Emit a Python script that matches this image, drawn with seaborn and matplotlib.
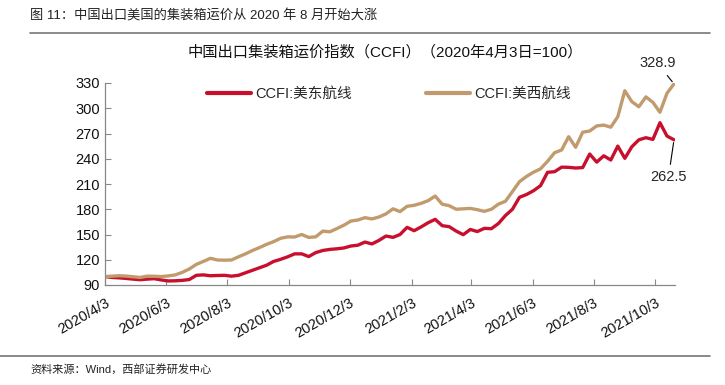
import pandas as pd
import matplotlib
matplotlib.use('Agg')
import matplotlib.pyplot as plt
import seaborn as sns

# 周度数据：2020/4/3 起，至 2021/10/22
start_date = '2020-04-03'
n_weeks = 82

east_vals = [100, 99, 98.5, 97.8, 97, 96.3, 97, 97.5, 96, 94.8,
             95, 95.5, 96.5, 101.5, 102, 101, 101.3, 101.5, 100.5, 101.5,
             104.5, 107.5, 110.5, 113.5, 118, 120.5, 123.5, 127, 127, 123.8,
             128.5, 131, 132.3, 133, 134, 136.3, 137.3, 141, 138.8, 143,
             148.2, 146.6, 150, 158.5, 154.5, 159, 164, 168, 160.5, 159.3,
             154, 149.8, 156, 153.5, 157.3, 156.9, 163, 172.5, 180, 194.2,
             197.5, 202, 208, 223.9, 224.6, 230, 229.8, 229, 229.5, 245.6,
             236, 243.5, 238.5, 255, 240.5, 254.3, 262.5, 265, 263, 282.8,
             267, 262.5]

west_vals = [100, 100.5, 101, 100.6, 99.8, 99, 100.5, 100.4, 100, 100.8,
             102, 105, 109, 114.5, 118, 121.7, 119.7, 119.5, 119.7, 123.5,
             127, 131, 134.5, 138.3, 141.5, 145.5, 147.2, 147, 150, 146.5,
             147.2, 154, 153.2, 157, 161, 166, 167.2, 170, 168.5, 170.8,
             174.5, 180.5, 177.2, 183.5, 184.7, 187, 190.2, 195.7, 186, 184.2,
             180, 180.5, 181, 179.5, 177.5, 180, 186, 189.5, 201, 212.7,
             219, 224, 228, 237, 247.2, 250.4, 266.2, 253.6, 271.5, 273,
             279, 280, 277.5, 290, 320.8, 307.8, 301.8, 313.5, 307, 295.2,
             317.8, 328.9]

series_names = ['CCFI:美东航线', 'CCFI:美西航线']
tick_dates = ['2020-04-03', '2020-06-03', '2020-08-03', '2020-10-03', '2020-12-03',
              '2021-02-03', '2021-04-03', '2021-06-03', '2021-08-03', '2021-10-03']
y_ticks = [90, 120, 150, 180, 210, 240, 270, 300, 330]

dates = pd.date_range(start_date, periods=n_weeks, freq='7D')
df = pd.DataFrame({'date': list(dates) * 2,
                   'value': east_vals + west_vals,
                   'series': [series_names[0]] * n_weeks + [series_names[1]] * n_weeks})

sns.set_style('white')
plt.rcParams['font.family'] = ['Liberation Sans', 'Noto Sans CJK SC', 'DejaVu Sans']

fig = plt.figure(figsize=(7.25, 3.85), dpi=100)
ax = fig.add_axes([105 / 725, 1 - 285 / 385, 570 / 725, 202 / 385])

palette = {series_names[0]: '#C8102E', series_names[1]: '#C19B6E'}
sns.lineplot(data=df, x='date', y='value', hue='series', palette=palette,
             linewidth=2.4, ax=ax)

ax.set_xlim(pd.Timestamp('2020-04-03'), pd.Timestamp('2021-10-23'))
ax.set_ylim(90, 330)
ax.set_yticks(y_ticks)
ax.set_xticks(pd.to_datetime(tick_dates))
ax.set_xticklabels([f'{d.year}/{d.month}/{d.day}' for d in pd.to_datetime(tick_dates)],
                   rotation=30, ha='right', rotation_mode='anchor')
ax.set_xlabel('')
ax.set_ylabel('')
ax.tick_params(direction='in', length=4, color='#888888', labelsize=10.5,
               labelcolor='#111111', bottom=True, left=True)
ax.tick_params(axis='x', pad=8)
for s in ['top', 'right']:
    ax.spines[s].set_visible(False)
for s in ['left', 'bottom']:
    ax.spines[s].set_color('#888888')
    ax.spines[s].set_linewidth(0.9)

leg = ax.legend(loc='upper left', bbox_to_anchor=(0.156, 1.045), ncol=2, frameon=False,
                fontsize=10.5, handlelength=3.0, columnspacing=5.1, handletextpad=0.3)
for line in leg.get_lines():
    line.set_linewidth(3)

# 末值标注
ax.annotate(f'{west_vals[-1]}', xy=(dates[-1], west_vals[-1]), xytext=(-12, 10),
            textcoords='offset points', ha='center', va='bottom', fontsize=10.5,
            arrowprops=dict(arrowstyle='-', color='black', lw=0.8))
ax.annotate(f'{east_vals[-1]}', xy=(dates[-1], east_vals[-1]), xytext=(-4, -22),
            textcoords='offset points', ha='center', va='top', fontsize=10.5,
            arrowprops=dict(arrowstyle='-', color='black', lw=0.8))

fig.text(30 / 725, 1 - 16 / 385, '图 11：中国出口美国的集装箱运价从 2020 年 8 月开始大涨',
         fontsize=9.5, color='#222222', va='center', ha='left')
fig.add_artist(plt.Line2D([30 / 725, 710 / 725], [1 - 33 / 385, 1 - 33 / 385],
                          color='#777777', lw=1.2))
fig.text(385 / 725, 1 - 52 / 385, '中国出口集装箱运价指数（CCFI）（2020年4月3日=100）',
         fontsize=11, color='#111111', va='center', ha='center')
fig.add_artist(plt.Line2D([0, 710 / 725], [1 - 356 / 385, 1 - 356 / 385],
                          color='#777777', lw=1.2))
fig.text(30 / 725, 1 - 369 / 385, '资料来源：Wind，西部证券研发中心',
         fontsize=8, color='#222222', va='center', ha='left')

fig.savefig('out.png', dpi=100)
